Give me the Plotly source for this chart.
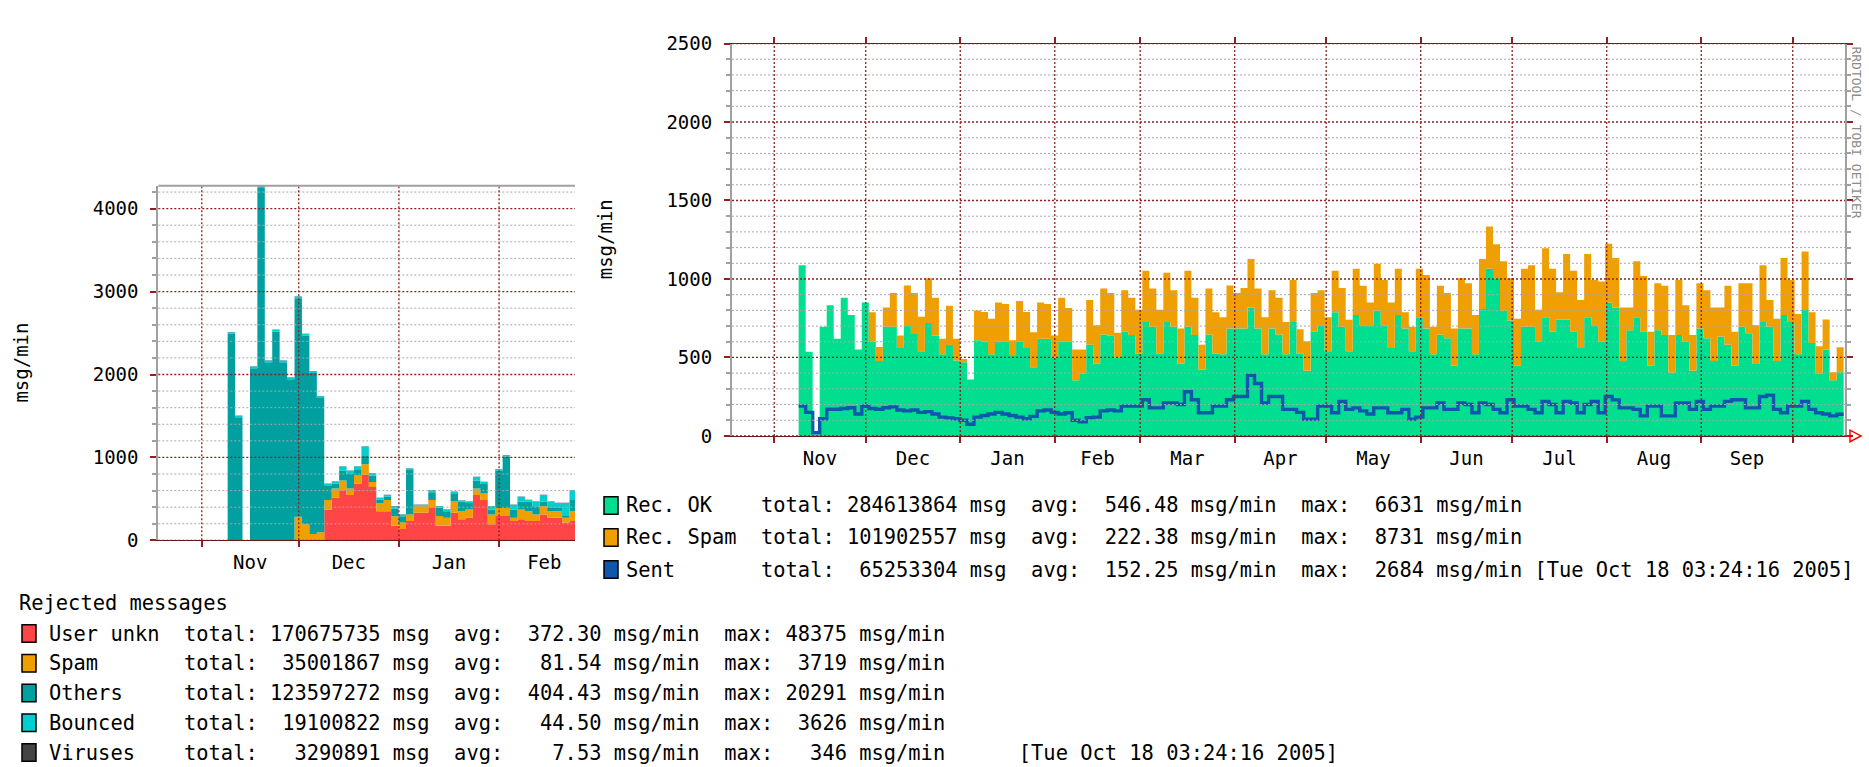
import datetime as dt
import plotly.graph_objects as go

W, H = 1869, 767
FONT = "DejaVu Sans Mono"

# ---------------- data ----------------
data_start = dt.datetime(2004, 11, 9)
step_days = 2.3

# right chart (accepted mail), msg/min per step
rec_ok = [1087, 536, 10, 695, 833, 619, 880, 771, 551, 850,
          600, 478, 695, 695, 560, 700, 650, 540, 720, 640,
          520, 580, 480, 470, 359, 610, 600, 520, 600, 600,
          510, 600, 560, 437, 620, 620, 500, 600, 600, 355,
          396, 581, 462, 647, 639, 499, 664, 643, 524, 726,
          695, 524, 726, 695, 462, 695, 643, 421, 647, 524,
          520, 685, 685, 685, 819, 685, 520, 685, 647, 520,
          726, 524, 416, 664, 705, 540, 788, 695, 540, 771,
          705, 705, 798, 705, 561, 771, 685, 540, 757, 685,
          520, 647, 623, 447, 685, 685, 520, 808, 1066, 1004,
          798, 736, 447, 695, 695, 600, 757, 664, 742, 742,
          664, 561, 757, 705, 600, 850, 819, 478, 674, 757,
          664, 447, 674, 643, 405, 643, 602, 416, 685, 623,
          478, 633, 581, 447, 695, 654, 458, 726, 695, 478,
          771, 726, 520, 802, 592, 396, 551, 355, 406]
rec_spam = [0, 0, 0, 0, 0, 0, 0, 0, 0, 0,
            188, 89, 123, 216, 80, 259, 261, 220, 284, 240,
            100, 250, 140, 20, 1, 190, 190, 226, 250, 240,
            100, 260, 230, 223, 230, 220, 140, 280, 215, 196,
            155, 285, 243, 293, 272, 159, 264, 237, 280, 326,
            245, 280, 313, 233, 223, 357, 237, 160, 293, 264,
            237, 274, 226, 257, 309, 255, 237, 243, 233, 206,
            268, 156, 186, 247, 223, 217, 264, 247, 200, 295,
            252, 145, 299, 289, 289, 295, 103, 155, 309, 340,
            175, 310, 288, 238, 319, 288, 251, 320, 268, 217,
            315, 268, 299, 371, 392, 204, 439, 402, 173, 417,
            388, 305, 402, 289, 384, 375, 315, 340, 144, 356,
            355, 217, 299, 314, 238, 351, 231, 227, 288, 305,
            340, 185, 376, 217, 278, 319, 247, 361, 171, 268,
            363, 268, 257, 373, 196, 175, 191, 51, 159]
sent = [190, 150, 20, 110, 170, 170, 175, 180, 140, 190,
        175, 170, 180, 185, 165, 160, 165, 150, 155, 140,
        120, 115, 110, 100, 75, 120, 130, 140, 150, 140,
        130, 120, 110, 125, 160, 165, 150, 140, 148, 100,
        90, 117, 120, 160, 165, 160, 190, 190, 190, 231,
        179, 179, 210, 210, 200, 282, 231, 148, 148, 190,
        190, 231, 251, 251, 386, 334, 210, 251, 251, 169,
        169, 150, 107, 107, 190, 190, 148, 220, 169, 179,
        160, 140, 179, 179, 148, 148, 169, 107, 120, 179,
        179, 210, 169, 169, 210, 200, 148, 210, 200, 169,
        148, 231, 190, 190, 169, 148, 220, 200, 148, 220,
        210, 148, 200, 220, 148, 251, 230, 179, 179, 169,
        128, 190, 190, 128, 128, 210, 210, 169, 220, 169,
        190, 190, 220, 231, 231, 179, 179, 251, 260, 169,
        148, 190, 190, 220, 169, 148, 140, 128, 138]

# left chart (rejected messages), msg/min per step
user_unkn = [0, 0, 0, 0, 0, 0, 0, 0, 0, 0,
             0, 0, 0, 371, 515, 605, 547, 683, 792, 644,
             351, 351, 180, 137, 234, 332, 332, 391, 176, 176,
             332, 254, 273, 547, 488, 195, 293, 293, 234, 254,
             234, 234, 312, 273, 273, 215, 234]
rej_spam = [0, 0, 0, 0, 0, 0, 0, 0, 0, 285,
            195, 78, 98, 117, 110, 117, 78, 98, 125, 59,
            100, 137, 110, 78, 78, 78, 78, 97, 117, 97,
            137, 97, 98, 78, 78, 117, 98, 98, 39, 117,
            117, 78, 98, 78, 78, 58, 117]
others = [2490, 1485, 0, 2076, 4250, 2148, 2519, 2148, 1943, 2636,
          2272, 1940, 1619, 176, 58, 118, 175, 78, 110, 78,
          40, 42, 90, 75, 538, 10, 10, 92, 102, 77,
          91, 118, 79, 95, 114, 59, 449, 619, 98, 98,
          118, 98, 59, 40, 40, 20, 137]
bounced = [20, 18, 0, 20, 20, 20, 20, 20, 20, 20,
           20, 20, 20, 19, 27, 50, 40, 31, 105, 27,
           20, 17, 30, 23, 17, 10, 10, 25, 15, 21,
           26, 11, 19, 42, 23, 39, 19, 17, 59, 58,
           19, 59, 78, 78, 59, 157, 117]
viruses = [3, 3, 0, 3, 2, 3, 3, 3, 3, 3,
           3, 3, 3, 3, 4, 3, 3, 3, 4, 3,
           3, 3, 3, 3, 3, 3, 3, 3, 3, 3,
           3, 3, 3, 4, 3, 3, 3, 3, 3, 3,
           3, 3, 3, 3, 3, 3, 3]

# axes / ticks
left_range = ["2004-10-18 13:00", "2005-02-24 12:00"]
right_range = ["2004-10-18 03:24:16", "2005-10-18 03:24:16"]
left_month_starts = ["2004-11-01", "2004-12-01", "2005-01-01", "2005-02-01", "2005-03-01"]
left_month_labels = ["Nov", "Dec", "Jan", "Feb"]
right_month_starts = ["2004-11-01", "2004-12-01", "2005-01-01", "2005-02-01", "2005-03-01",
                      "2005-04-01", "2005-05-01", "2005-06-01", "2005-07-01", "2005-08-01",
                      "2005-09-01", "2005-10-01"]
right_month_labels = ["Nov", "Dec", "Jan", "Feb", "Mar", "Apr", "May", "Jun", "Jul", "Aug", "Sep"]
left_ymax = 4275
left_major = [0, 1000, 2000, 3000, 4000]
left_minor_step = 200
right_ymax = 2500
right_major = [0, 500, 1000, 1500, 2000, 2500]
right_minor_step = 100

# legend texts
right_legend = [
    ("Rec. OK", "284613864", "546.48", "6631", ""),
    ("Rec. Spam", "101902557", "222.38", "8731", ""),
    ("Sent", "65253304", "152.25", "2684", "[Tue Oct 18 03:24:16 2005]"),
]
left_legend_title = "Rejected messages"
left_legend = [
    ("User unkn", "170675735", "372.30", "48375", ""),
    ("Spam", "35001867", "81.54", "3719", ""),
    ("Others", "123597272", "404.43", "20291", ""),
    ("Bounced", "19100822", "44.50", "3626", ""),
    ("Viruses", "3290891", "7.53", "346", "     [Tue Oct 18 03:24:16 2005]"),
]

# ---------------- style ----------------
C_OK = "#00DE90"
C_RSPAM = "#EF9F00"
C_SENT = "#0E57AC"
C_UNKN = "#FF4545"
C_SPAM = "#EF9F00"
C_OTH = "#00A0A0"
C_BOUNCE = "#00CFCF"
C_VIR = "#444444"
C_MAJOR = "#951E1E"
C_MINOR = "#A8A8A8"
C_AXIS = "#A0A0A0"


def px_x(p):
    return p / W


def px_y(p):
    return 1 - p / H


def parse(d):
    return dt.datetime.fromisoformat(d)


def step_x(n):
    return [data_start + dt.timedelta(days=step_days * i) for i in range(n + 1)]


def ext(v):
    return list(v) + [v[-1]]


def midpoints(starts):
    ds = [parse(s) for s in starts]
    return [a + (b - a) / 2 for a, b in zip(ds[:-1], ds[1:])]


fig = go.Figure()

# right chart traces
xr = step_x(len(rec_ok))
for name, vals, col in [("Rec. OK", rec_ok, C_OK), ("Rec. Spam", rec_spam, C_RSPAM)]:
    fig.add_trace(go.Scatter(x=xr, y=ext(vals), name=name, mode="lines", stackgroup="acc",
                             line=dict(shape="hv", width=0, color=col), fillcolor=col,
                             xaxis="x2", yaxis="y2"))
fig.add_trace(go.Scatter(x=xr, y=ext(sent), name="Sent", mode="lines",
                         line=dict(shape="hv", width=3.4, color=C_SENT),
                         xaxis="x2", yaxis="y2"))

# left chart traces
xl = step_x(len(user_unkn))
for name, vals, col in [("User unkn", user_unkn, C_UNKN), ("Spam", rej_spam, C_SPAM),
                        ("Others", others, C_OTH), ("Bounced", bounced, C_BOUNCE),
                        ("Viruses", viruses, C_VIR)]:
    fig.add_trace(go.Scatter(x=xl, y=ext(vals), name=name, mode="lines", stackgroup="rej",
                             line=dict(shape="hv", width=0, color=col), fillcolor=col,
                             xaxis="x", yaxis="y"))

tickfont = dict(family=FONT, size=19, color="#000000")


def xaxis_cfg(domain, rng, starts, labels, anchor, mirror):
    return dict(domain=domain, anchor=anchor, type="date", range=rng,
                tickmode="array", tickvals=midpoints(starts)[:len(labels)], ticktext=labels,
                ticks="", showgrid=False, zeroline=False, tickfont=tickfont,
                ticklabelstandoff=5,
                showline=True, linecolor="#6A1818", linewidth=1, mirror=mirror,
                minor=dict(tickmode="array", tickvals=starts, ticks="outside", ticklen=6,
                           tickwidth=2, tickcolor=C_MAJOR, showgrid=False))


def yaxis_cfg(domain, ymax, major, minor_step, anchor, mirror):
    return dict(domain=domain, anchor=anchor, range=[0, ymax], tickmode="array",
                tickvals=major, ticktext=[str(v) for v in major], ticks="outside",
                ticklen=6, tickwidth=2, tickcolor=C_MAJOR, showgrid=False, zeroline=False,
                tickfont=tickfont, ticklabelstandoff=8,
                showline=True, linecolor=C_AXIS, linewidth=2, mirror=mirror,
                minor=dict(tickmode="linear", tick0=0, dtick=minor_step, ticks="outside",
                           ticklen=4, tickwidth=2, tickcolor=C_AXIS, showgrid=False))


fig.update_layout(
    width=W, height=H, margin=dict(l=0, r=0, t=0, b=0),
    paper_bgcolor="white", plot_bgcolor="white", showlegend=False,
    xaxis=xaxis_cfg([px_x(158.3), px_x(575)], left_range, left_month_starts, left_month_labels,
                    "y", False),
    yaxis=yaxis_cfg([px_y(545), px_y(180)], left_ymax, left_major, left_minor_step, "x", False),
    xaxis2=xaxis_cfg([px_x(732), px_x(1845)], right_range, right_month_starts,
                     right_month_labels, "y2", "ticks"),
    yaxis2=yaxis_cfg([px_y(437.5), px_y(33.5)], right_ymax, right_major, right_minor_step,
                     "x2", "ticks"),
)

shapes = []


def hgrid(xref, yref, ymax, major, minor_step):
    v = 0
    while v < ymax:
        is_major = v in major
        shapes.append(dict(type="line", xref=xref + " domain", yref=yref, x0=0, x1=1, y0=v, y1=v,
                           layer="above",
                           line=dict(color=C_MAJOR if is_major else C_MINOR,
                                     width=1.3 if is_major else 1, dash="2px,2px")))
        v += minor_step


def vgrid(xref, yref, starts, rng):
    lo, hi = parse(rng[0]), parse(rng[1])
    for s in starts:
        d = parse(s)
        if lo < d < hi:
            shapes.append(dict(type="line", xref=xref, yref=yref + " domain", x0=d, x1=d,
                               y0=0, y1=1, layer="above",
                               line=dict(color=C_MAJOR, width=1.3, dash="2px,2px")))


hgrid("x", "y", left_ymax, left_major, left_minor_step)
vgrid("x", "y", left_month_starts, left_range)
hgrid("x2", "y2", right_ymax + 1, right_major, right_minor_step)
vgrid("x2", "y2", right_month_starts, right_range)

# left chart top border
shapes.append(dict(type="line", xref="x domain", yref="y domain", x0=0, x1=1, y0=1, y1=1,
                   layer="above", line=dict(color=C_AXIS, width=2)))

# red arrow at end of right x axis
ax0, ay = 1845, 437.5
shapes.append(dict(type="path", xref="paper", yref="paper", layer="above",
                   path=(f"M {px_x(ax0)} {px_y(ay)} L {px_x(ax0 + 5)} {px_y(ay)} "
                         f"M {px_x(ax0 + 5)} {px_y(ay - 6)} L {px_x(ax0 + 5)} {px_y(ay + 6)} "
                         f"L {px_x(ax0 + 16)} {px_y(ay)} Z"),
                   line=dict(color="#FF0000", width=1.5)))

annotations = []
NB = "\u00a0"


def txt(x, y, s, size=20.4, color="#000000", angle=0, xanchor="left"):
    annotations.append(dict(xref="paper", yref="paper", x=px_x(x), y=px_y(y),
                            text=s.replace(" ", NB), showarrow=False, xanchor=xanchor,
                            yanchor="middle", textangle=angle, borderpad=0,
                            font=dict(family=FONT, size=size, color=color)))


def legend_line(label, total, avg, mx, tail):
    return (f"{label:<10} total: {total:>9} msg  avg: {avg:>7} msg/min  max: {mx:>5} msg/min"
            + (" " + tail if tail else ""))


def box(x, y, col):
    shapes.append(dict(type="rect", xref="paper", yref="paper", layer="above",
                       x0=px_x(x), x1=px_x(x + 14), y0=px_y(y - 9), y1=px_y(y + 9),
                       fillcolor=col, line=dict(color="#000000", width=1.5)))


right_cols = [C_OK, C_RSPAM, C_SENT]
for i, (row, col) in enumerate(zip(right_legend, right_cols)):
    y = 509 + 33 * i
    box(604, y, col)
    txt(625, y, legend_line(*row))

txt(18, 609, left_legend_title)
left_cols = [C_UNKN, C_SPAM, C_OTH, C_BOUNCE, C_VIR]
for i, (row, col) in enumerate(zip(left_legend, left_cols)):
    y = 641 + 30.6 * i
    box(22, y, col)
    txt(48, y, legend_line(*row))

# y-axis titles
txt(21, 362, "msg/min", size=19, angle=-90, xanchor="center")
txt(605, 235, "msg/min", size=19, angle=-90, xanchor="center")
# watermark
txt(1857, 125, "RRDTOOL / TOBI OETIKER", size=13, color="#8C8C8C", angle=90, xanchor="center")

fig.update_layout(shapes=shapes, annotations=annotations)
fig.write_html("out.html", config={"displayModeBar": False},
               post_script="document.body.style.margin='0';document.body.style.padding='0';"
                           "document.documentElement.style.overflow='hidden';")
